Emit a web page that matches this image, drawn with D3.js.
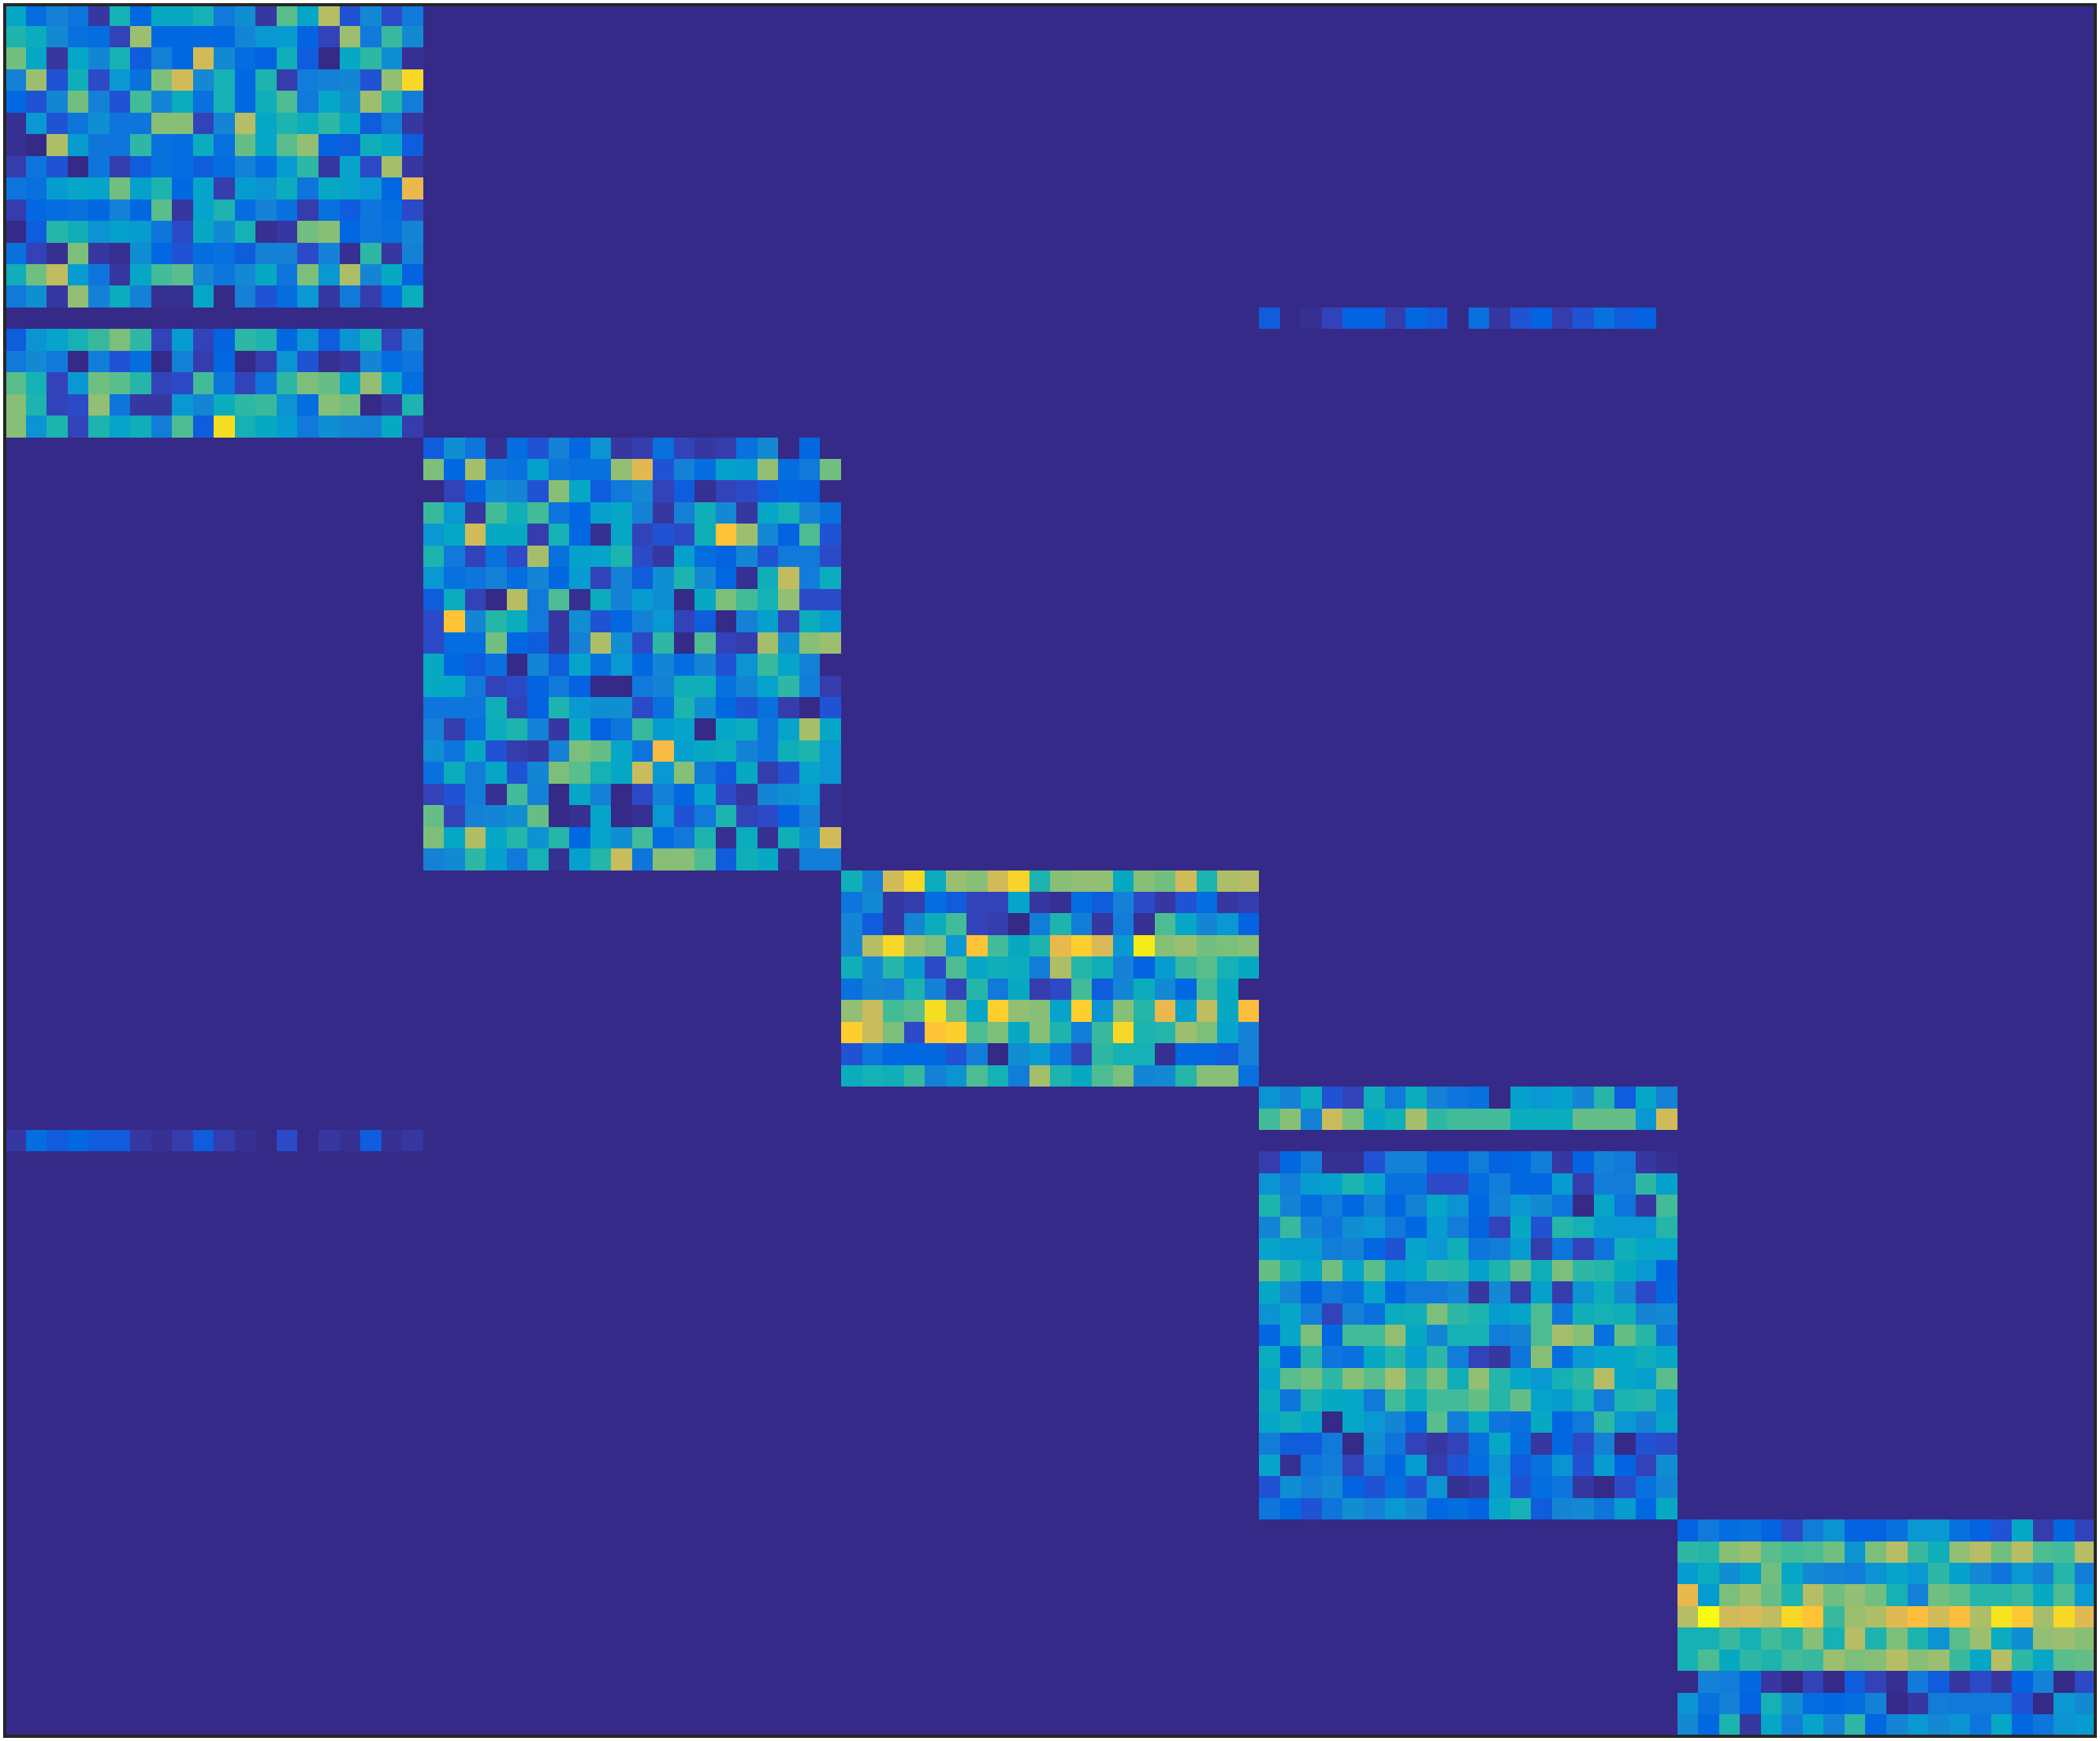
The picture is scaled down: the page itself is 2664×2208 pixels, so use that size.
<!DOCTYPE html>
<html><head><meta charset="utf-8">
<script src="https://cdn.jsdelivr.net/npm/d3@7/dist/d3.min.js"></script>
<style>html,body{margin:0;padding:0;background:#fff}svg{display:block}</style>
</head><body><svg id="c" width="2664" height="2208"></svg>
<script>
const nCols = 100, nRows = 80;
const parula = [[.2081,.1663,.5292],[.2116,.1898,.5777],[.2123,.2138,.6270],[.2081,.2386,.6771],[.1959,.2645,.7279],[.1707,.2919,.7792],[.1253,.3242,.8303],[.0591,.3598,.8683],[.0117,.3875,.8820],[.0060,.4086,.8828],[.0165,.4266,.8786],[.0329,.4430,.8720],[.0498,.4586,.8641],[.0629,.4737,.8554],[.0723,.4887,.8467],[.0779,.5040,.8384],[.0793,.5200,.8312],[.0749,.5375,.8263],[.0641,.5570,.8240],[.0488,.5772,.8228],[.0343,.5966,.8199],[.0265,.6137,.8135],[.0239,.6287,.8038],[.0231,.6418,.7913],[.0228,.6535,.7768],[.0267,.6642,.7607],[.0384,.6743,.7436],[.0590,.6838,.7254],[.0843,.6928,.7062],[.1133,.7015,.6859],[.1453,.7098,.6646],[.1801,.7177,.6424],[.2178,.7250,.6193],[.2586,.7317,.5954],[.3022,.7376,.5712],[.3482,.7424,.5473],[.3953,.7459,.5244],[.4420,.7481,.5033],[.4871,.7491,.4840],[.5300,.7491,.4661],[.5709,.7485,.4494],[.6099,.7473,.4337],[.6473,.7456,.4188],[.6834,.7435,.4044],[.7184,.7411,.3905],[.7525,.7384,.3768],[.7858,.7356,.3633],[.8185,.7327,.3498],[.8507,.7299,.3360],[.8824,.7274,.3217],[.9139,.7258,.3063],[.9450,.7261,.2886],[.9739,.7314,.2666],[.9938,.7455,.2403],[.9990,.7653,.2164],[.9955,.7861,.1967],[.9880,.8066,.1794],[.9789,.8271,.1633],[.9697,.8481,.1475],[.9626,.8705,.1309],[.9589,.8949,.1132],[.9598,.9218,.0948],[.9661,.9514,.0755],[.9763,.9831,.0538]];

const blockA = [
[24,10,15,12,2,28,9,25,25,28,13,18,2,35,24,44,6,17,5,13],
[29,26,17,11,10,4,41,9,9,9,9,16,20,21,8,4,41,13,32,17],
[37,24,2,24,16,28,7,15,9,47,17,10,8,27,7,0,25,31,18,1],
[15,41,6,27,5,20,11,38,47,17,28,9,29,3,14,15,16,6,40,58],
[9,6,16,37,15,6,33,16,26,11,28,9,27,34,13,24,18,41,30,14],
[1,20,6,12,18,12,12,39,39,4,16,44,24,29,26,31,24,7,14,2],
[1,0,43,21,12,12,31,11,10,26,11,36,24,35,40,8,7,27,24,7],
[3,12,6,0,12,3,7,11,10,7,10,15,10,21,31,2,23,5,42,2],
[12,11,21,24,23,37,22,29,9,23,3,21,19,26,12,25,23,20,9,50],
[3,9,10,11,9,15,9,35,2,23,29,10,15,11,3,11,7,12,10,5],
[0,7,30,27,19,22,21,12,5,25,17,28,1,2,37,39,9,12,11,16],
[11,4,1,38,2,1,18,9,6,10,11,7,15,15,5,15,1,31,2,15],
[27,37,45,21,12,2,24,33,35,16,12,17,25,12,38,20,43,16,25,8],
[13,18,2,40,15,26,15,1,1,24,0,15,6,10,20,2,13,3,10,26],
[0,0,0,0,0,0,0,0,0,0,0,0,0,0,0,0,0,0,0,0],
[7,19,23,28,32,38,31,4,21,4,8,31,29,9,20,7,19,27,4,15],
[13,17,13,0,14,6,10,0,15,3,9,0,3,19,6,1,2,16,10,12],
[35,28,4,20,37,35,30,4,5,33,12,4,12,31,38,36,24,40,24,10],
[39,29,4,5,40,12,2,2,20,16,26,31,32,19,10,39,37,0,2,29],
[39,19,29,4,29,23,27,14,34,7,59,28,25,21,13,18,16,15,25,3]];
const blockB = [
[7,18,12,1,10,6,15,9,19,2,3,11,4,2,3,11,17,0,9,0],
[38,9,42,12,11,22,12,11,11,40,49,6,15,10,22,21,40,10,13,37],
[0,4,8,18,16,6,39,24,7,13,17,4,7,1,4,5,7,9,8,0],
[32,20,2,33,27,33,12,9,22,24,15,2,15,27,17,2,24,28,15,11],
[20,24,47,25,25,3,28,9,1,24,4,6,5,27,54,41,17,8,34,6],
[29,13,4,11,5,42,11,22,23,29,5,2,22,10,8,16,6,13,13,5],
[20,11,12,15,10,16,9,21,4,15,7,18,29,17,9,1,27,45,14,26],
[7,26,4,0,44,13,34,1,26,15,21,18,0,25,38,33,28,40,5,5],
[5,54,16,30,26,13,2,18,6,9,15,20,4,7,0,15,22,4,26,21],
[5,10,10,37,9,7,2,15,43,18,5,31,0,34,4,3,42,18,39,41],
[25,9,7,11,0,16,7,23,11,20,9,16,10,16,6,19,32,23,15,0],
[25,24,13,4,5,8,13,8,0,0,13,15,27,27,11,16,23,31,14,3],
[12,12,12,27,4,8,29,20,18,18,5,11,29,18,9,6,11,3,0,6],
[15,3,11,26,29,15,2,25,8,12,32,21,23,0,24,26,12,23,42,24],
[18,12,25,6,3,2,15,38,36,24,12,52,22,25,26,15,12,27,29,20],
[11,26,14,24,6,16,38,35,28,24,46,20,39,13,7,25,3,6,23,20],
[4,6,14,1,33,15,0,24,15,0,5,15,9,23,5,2,16,18,20,1],
[36,4,15,16,18,36,0,1,23,0,1,20,6,13,29,4,5,8,15,1],
[38,24,43,24,30,19,30,9,23,18,33,10,13,29,1,26,1,27,18,47],
[15,17,31,22,13,28,1,22,30,46,12,39,39,34,7,27,25,1,14,14]];
const blockC = [
[27,15,47,58,26,41,39,47,57,29,39,40,40,25,39,37,47,29,43,44],
[12,17,2,3,10,7,4,4,23,2,1,10,7,15,5,2,6,10,2,3],
[16,7,2,16,26,33,4,3,0,14,29,14,2,14,1,34,24,16,20,8],
[16,44,58,41,38,20,54,33,25,29,50,56,48,20,61,39,41,37,38,39],
[27,17,30,21,5,34,24,27,26,14,43,30,27,15,8,21,32,35,28,25],
[11,16,15,29,15,4,30,13,25,3,5,33,7,16,26,17,9,33,25,0],
[40,46,33,35,59,37,24,56,40,39,23,56,19,39,30,50,22,45,25,53],
[56,46,38,5,54,56,34,38,25,39,29,14,32,58,29,30,41,38,23,15],
[6,12,9,9,9,6,14,0,18,21,12,4,31,28,28,1,9,9,7,15],
[26,28,27,32,15,19,34,28,14,42,29,25,34,38,16,17,30,39,39,11]];
const blockD = [
[19,15,26,6,4,27,13,26,15,12,11,0,22,20,22,16,30,7,24,15],
[33,39,15,46,38,24,27,42,31,33,33,33,26,26,26,36,36,36,20,47],
[0,0,0,0,0,0,0,0,0,0,0,0,0,0,0,0,0,0,0,0],
[3,9,14,1,1,6,15,15,8,8,14,8,9,14,2,8,15,13,2,1],
[19,14,21,22,29,24,11,11,5,5,10,14,9,9,21,3,14,14,31,22],
[29,15,10,14,9,15,9,15,24,19,9,15,20,17,12,0,24,12,2,33],
[16,32,16,12,18,20,13,9,21,14,8,4,25,6,30,28,21,20,20,30],
[23,21,21,14,15,9,6,23,20,27,12,14,21,3,12,4,12,27,24,23],
[36,29,24,37,23,35,21,24,31,30,22,29,36,27,38,31,30,25,20,8],
[24,16,8,13,11,23,9,13,13,16,2,17,3,22,3,19,26,17,5,9],
[19,24,14,4,15,11,26,27,38,31,29,21,23,34,12,27,28,27,16,17],
[9,24,38,9,33,33,40,25,16,28,28,14,15,34,42,39,11,36,30,12],
[26,9,30,12,11,25,30,21,31,14,4,2,12,39,10,20,23,24,27,24],
[23,35,37,31,39,35,42,31,38,27,40,30,24,20,28,31,44,24,22,35],
[26,12,29,25,24,13,33,26,33,33,36,30,36,23,21,28,14,29,30,21],
[24,27,23,0,24,20,16,10,35,14,26,12,11,25,9,13,31,20,16,23],
[14,7,7,13,0,18,12,4,2,4,11,24,10,2,9,5,15,0,6,5],
[23,1,12,14,4,14,9,21,3,6,10,19,7,11,19,6,21,8,4,18],
[6,18,14,17,8,6,10,6,19,1,2,21,6,10,12,2,0,5,11,16],
[12,9,6,12,18,15,20,17,9,10,8,24,28,7,16,17,12,21,9,25]];
const blockE = [
[8,13,10,11,8,5,14,19,8,8,11,20,20,11,8,6,24,3,9,4],
[31,30,39,41,35,33,34,37,19,38,44,32,27,40,44,37,44,34,33,44],
[21,26,18,22,37,24,17,15,14,19,23,20,31,22,17,12,20,15,30,14],
[50,21,38,41,36,29,44,37,40,37,28,15,37,35,30,30,32,25,34,20],
[44,63,47,48,45,58,54,32,41,43,49,53,47,53,43,60,55,42,58,49],
[28,28,32,28,33,30,39,28,44,29,38,29,19,35,41,26,18,40,41,39],
[28,34,25,31,29,33,32,41,38,39,44,39,41,32,24,44,31,24,35,36],
[0,15,14,9,2,0,4,0,7,4,1,13,7,2,5,2,8,15,0,5],
[19,11,15,8,28,18,10,9,10,15,0,2,14,13,13,13,6,0,20,17],
[17,9,29,2,24,14,23,15,31,9,16,20,17,19,12,24,9,12,19,21]];
const stripTop = [7,0,1,4,8,8,3,9,7,0,11,2,6,8,3,6,11,7,8,0];
const stripLeft = [2,10,7,9,7,7,2,1,3,7,3,1,0,5,0,2,1,7,1,2];

const placements = [
  {rows: blockA, col: 0, row: 0},
  {rows: blockB, col: 20, row: 20},
  {rows: blockC, col: 40, row: 40},
  {rows: blockD, col: 60, row: 50},
  {rows: blockE, col: 80, row: 70},
  {rows: [stripTop], col: 60, row: 14},
  {rows: [stripLeft], col: 0, row: 52}
];
const cells = placements.flatMap(p => p.rows.flatMap((r, i) => r.map((v, j) => ({c: p.col + j, r: p.row + i, v}))));

// plot box; the cell grid overshoots it slightly and is clipped to it
const L = 8, T = 8, R = 2656, B = 2200;
const x = d3.scaleBand().domain(d3.range(nCols)).range([6.2, 2658.2]);
const y = d3.scaleBand().domain(d3.range(nRows)).range([5.55, 2201.55]);
const color = d3.scaleOrdinal().domain(d3.range(64)).range(parula.map(c => d3.rgb(c[0]*255, c[1]*255, c[2]*255).formatHex()));

const svg = d3.select('#c');
svg.append('clipPath').attr('id', 'plot').append('rect').attr('x', L).attr('y', T).attr('width', R - L).attr('height', B - T);
svg.append('rect').attr('x', L).attr('y', T).attr('width', R - L).attr('height', B - T).attr('fill', color(0));
svg.append('g').attr('clip-path', 'url(#plot)').attr('shape-rendering', 'crispEdges').selectAll('rect').data(cells).join('rect')
  .attr('x', d => x(d.c)).attr('y', d => y(d.r))
  .attr('width', x.bandwidth()).attr('height', y.bandwidth())
  .attr('fill', d => color(d.v));
svg.append('rect').attr('x', L - 2).attr('y', T - 2).attr('width', R - L + 4).attr('height', B - T + 4)
  .attr('fill', 'none').attr('stroke', '#262626').attr('stroke-width', 4).attr('shape-rendering', 'crispEdges');
</script></body></html>
